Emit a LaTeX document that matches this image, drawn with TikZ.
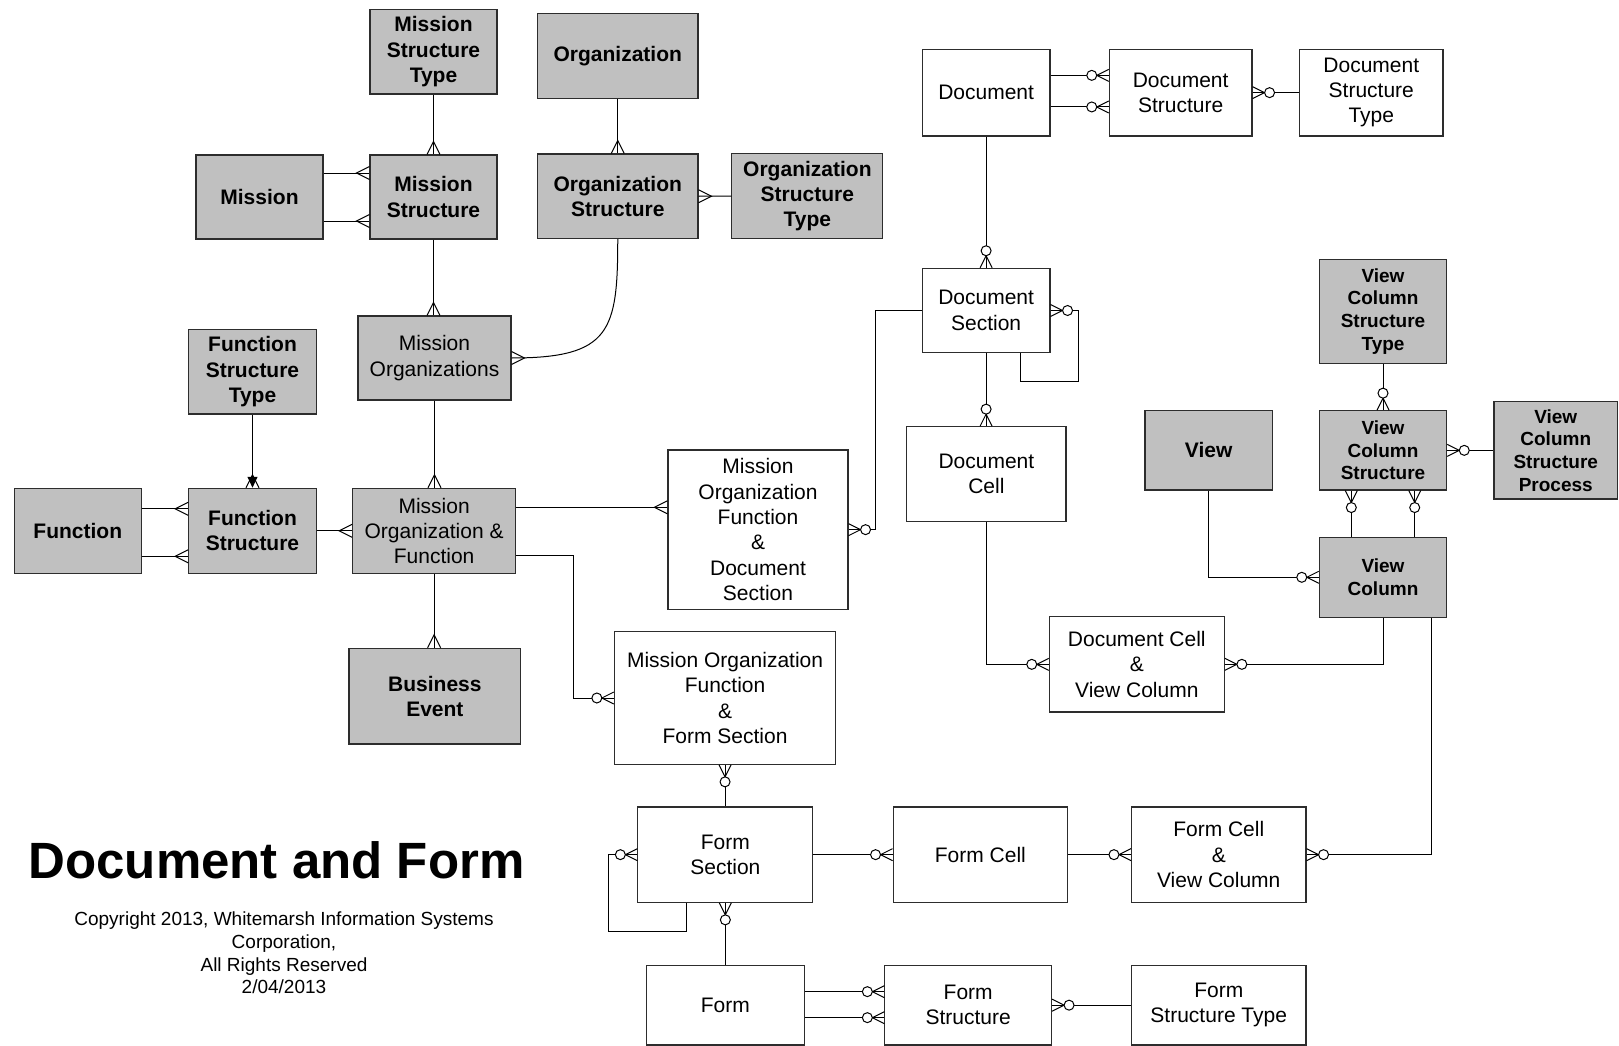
\documentclass[tikz,border=0pt]{standalone}
\usepackage{fontspec}
\setmainfont{Liberation Sans}
\usetikzlibrary{calc,arrows.meta}
\definecolor{entgray}{RGB}{192,192,192}
\definecolor{edgegray}{RGB}{45,45,45}

\begin{document}
\begin{tikzpicture}[x=1pt,y=-1pt,
  ent/.style={draw=edgegray, line width=1.1pt, inner sep=0pt, align=center,
              font=\fontsize{21}{25.3}\selectfont},
  wbox/.style={ent, fill=white},
  gbox/.style={ent, fill=entgray, font=\fontsize{21}{25.3}\selectfont\bfseries},
  gplain/.style={ent, fill=entgray},
  vbox/.style={ent, fill=entgray, font=\fontsize{19}{22.7}\selectfont\bfseries},
  sz/.style 2 args={minimum width=#1pt, minimum height=#2pt},
  rel/.style={draw=black, line width=1pt},
  crowfoot/.pic={\draw[rel] (0,6.5) -- (13,0) -- (0,-6.5);},
  zerocrow/.pic={\draw[rel] (0,6) -- (12,0) -- (0,-6);
                 \draw[rel, fill=white] (17,0) circle (5pt);},
]
\fill[white] (0,0) rectangle (1619,1046);
\useasboundingbox (0,0) rectangle (1619,1046);

% ---- mission / organization / function entities
\node[gbox, sz={127}{84.5}] (mst) at (433.5,51.75) {Mission\\Structure\\Type};
\node[gbox, sz={160.5}{85}] (org) at (617.75,56) {Organization};
\node[gbox, sz={127}{84}] (mission) at (259.5,197) {Mission};
\node[gbox, sz={127}{84}] (ms) at (433.5,197) {Mission\\Structure};
\node[gbox, sz={160.5}{84.5}] (orgs) at (617.75,196.25) {Organization\\Structure};
\node[gbox, sz={151}{84.7}] (ost) at (807.4,196.2) {Organization\\Structure\\Type};
\node[gplain, sz={153}{84}] (mo) at (434.5,358) {Mission\\Organizations};
\node[gbox, sz={127.6}{84.7}] (fst) at (252.5,371.65) {Function\\Structure\\Type};
\node[gbox, sz={127.2}{85}] (func) at (77.8,530.8) {Function};
\node[gbox, sz={127.6}{85}] (fs) at (252.5,530.8) {Function\\Structure};
\node[gplain, sz={163}{85}] (mof) at (434.1,530.8) {Mission\\Organization \&\\Function};
\node[gbox, sz={171.7}{95.7}] (be) at (434.85,696.15) {Business\\Event};

% ---- document / form entities
\node[wbox, sz={180}{159.3}] (mofds) at (758,529.65) {Mission\\Organization\\Function\\\&\\Document\\Section};
\node[wbox, sz={221.3}{132.6}] (moffs) at (725.05,698) {Mission Organization\\Function\\\&\\Form Section};
\node[wbox, sz={127.8}{86.7}] (doc) at (986.1,92.65) {Document};
\node[wbox, sz={142.7}{86.7}] (dstr) at (1180.65,92.65) {Document\\Structure};
\node[wbox, sz={143.5}{86.7}] (dst) at (1371.25,92.65) {Document\\Structure\\Type};
\node[wbox, sz={127.8}{84.4}] (dsec) at (986.1,310.5) {Document\\Section};
\node[wbox, sz={159.3}{95}] (dcell) at (986.35,474.2) {Document\\Cell};
\node[wbox, sz={175}{95.3}] (dcvc) at (1136.8,664.35) {Document Cell\\\&\\View Column};
\node[wbox, sz={174.9}{95.3}] (fsec) at (725.35,854.65) {Form\\Section};
\node[wbox, sz={174.5}{95.3}] (fcell) at (980.35,854.65) {Form Cell};
\node[wbox, sz={174.5}{95.3}] (fcvc) at (1218.75,854.65) {Form Cell\\\&\\View Column};
\node[wbox, sz={158.4}{79.7}] (form) at (725.3,1005.15) {Form};
\node[wbox, sz={166.6}{79.7}] (fstr) at (968.2,1005.15) {Form\\Structure};
\node[wbox, sz={174.5}{79.7}] (fstt) at (1218.75,1005.15) {Form\\Structure Type};

% ---- view entities
\node[vbox, sz={127.4}{104}] (vcst) at (1383,311.3) {View\\Column\\Structure\\Type};
\node[gbox, sz={127.3}{79.3}] (view) at (1208.65,450.35) {View};
\node[vbox, sz={127.4}{79.3}] (vcs) at (1383,450.35) {View\\Column\\Structure};
\node[vbox, sz={123.5}{97.3}] (vcsp) at (1555.75,450.35) {View\\Column\\Structure\\Process};
\node[vbox, sz={127.4}{80}] (vc) at (1383,577.3) {View\\Column};

% ---- titles
\node[font=\fontsize{51}{55}\selectfont\bfseries] (title) at (276.5,860.5) {Document and Form};
\node[align=center, font=\fontsize{19}{22.7}\selectfont] (copy) at (284,953)
  {Copyright 2013, Whitemarsh Information Systems\\Corporation,\\All Rights Reserved\\2/04/2013};

% ---- relationships: mission side
\draw[rel] (mst.south) -- (ms.north);
\pic[rotate=90] at (ms.north) {crowfoot};

\coordinate (m1) at ($(mission.east)+(0,-24)$);
\coordinate (m2) at ($(mission.east)+(0,24)$);
\draw[rel] (m1) -- (m1 -| ms.west);
\draw[rel] (m2) -- (m2 -| ms.west);
\pic[rotate=180] at (m1 -| ms.west) {crowfoot};
\pic[rotate=180] at (m2 -| ms.west) {crowfoot};

\draw[rel] (org.south) -- (orgs.north);
\pic[rotate=90] at (orgs.north) {crowfoot};

\draw[rel] (orgs.east) -- (ost.west);
\pic at (orgs.east) {crowfoot};

\draw[rel] (ms.south) -- (ms.south |- mo.north);
\pic[rotate=90] at (ms.south |- mo.north) {crowfoot};

\draw[rel] (orgs.south) .. controls ($(orgs.south)+(0,92)$) and ($(mo.east)+(99,0)$) .. (mo.east);
\pic at (mo.east) {crowfoot};

\draw[rel] (mo.south) -- (mo.south |- mof.north);
\pic[rotate=90] at (mo.south |- mof.north) {crowfoot};

\draw[rel, -{Triangle[length=11pt,width=10pt]}] (fst.south) -- (fs.north);
\pic[rotate=90] at (fs.north) {crowfoot};

\coordinate (f1) at ($(func.east)+(0,-22)$);
\coordinate (f2) at ($(func.east)+(0,25.5)$);
\draw[rel] (f1) -- (f1 -| fs.west);
\draw[rel] (f2) -- (f2 -| fs.west);
\pic[rotate=180] at (f1 -| fs.west) {crowfoot};
\pic[rotate=180] at (f2 -| fs.west) {crowfoot};

\draw[rel] (fs.east) -- (mof.west);
\pic[rotate=180] at (mof.west) {crowfoot};

\draw[rel] (mof.south) -- (mof.south |- be.north);
\pic[rotate=90] at (mof.south |- be.north) {crowfoot};

\coordinate (d1) at ($(mof.east)+(0,-23.5)$);
\draw[rel] (d1) -- (d1 -| mofds.west);
\pic[rotate=180] at (d1 -| mofds.west) {crowfoot};

\coordinate (d2) at ($(mof.east)+(0,24.2)$);
\draw[rel] (d2) -- ++(56.9,0) |- (moffs.west);
\pic[rotate=180] at (moffs.west) {zerocrow};

% ---- relationships: document side
\coordinate (e1) at ($(doc.east)+(0,-17.3)$);
\coordinate (e2) at ($(doc.east)+(0,14.3)$);
\draw[rel] (e1) -- (e1 -| dstr.west);
\draw[rel] (e2) -- (e2 -| dstr.west);
\pic[rotate=180] at (e1 -| dstr.west) {zerocrow};
\pic[rotate=180] at (e2 -| dstr.west) {zerocrow};

\draw[rel] (dstr.east) -- (dst.west);
\pic at (dstr.east) {zerocrow};

\draw[rel] (doc.south) -- (dsec.north);
\pic[rotate=90] at (dsec.north) {zerocrow};

\draw[rel] (dsec.east) -- ++(28.4,0) |- ($(dsec.south)+(34.6,28.3)$) -- ($(dsec.south)+(34.6,0)$);
\pic at (dsec.east) {zerocrow};

\draw[rel] (dsec.west) -- ++(-45.7,0) |- (mofds.east);
\pic at (mofds.east) {zerocrow};

\draw[rel] (dsec.south) -- (dsec.south |- dcell.north);
\pic[rotate=90] at (dsec.south |- dcell.north) {zerocrow};

\draw[rel] (dcell.south) |- (dcvc.west);
\pic[rotate=180] at (dcvc.west) {zerocrow};

\draw[rel] (vc.south) |- (dcvc.east);
\pic at (dcvc.east) {zerocrow};

% ---- relationships: view side
\draw[rel] (vcst.south) -- (vcs.north);
\pic[rotate=90] at (vcs.north) {zerocrow};

\draw[rel] (vcs.east) -- (vcs.east -| vcsp.west);
\pic at (vcs.east) {zerocrow};

\coordinate (v1) at ($(vcs.south)+(-31.7,0)$);
\coordinate (v2) at ($(vcs.south)+(31.7,0)$);
\draw[rel] (v1) -- (v1 |- vc.north);
\draw[rel] (v2) -- (v2 |- vc.north);
\pic[rotate=-90] at (v1) {zerocrow};
\pic[rotate=-90] at (v2) {zerocrow};

\draw[rel] (view.south) |- (vc.west);
\pic[rotate=180] at (vc.west) {zerocrow};

\coordinate (v3) at ($(vc.south)+(48,0)$);
\draw[rel] (v3) |- (fcvc.east);
\pic at (fcvc.east) {zerocrow};

% ---- relationships: form side
\draw[rel] (moffs.south) -- (moffs.south |- fsec.north);
\pic[rotate=-90] at (moffs.south) {zerocrow};

\draw[rel] (fsec.west) -- ++(-29,0) |- ($(fsec.south)+(-39.35,28.4)$) -- ($(fsec.south)+(-39.35,0)$);
\pic[rotate=180] at (fsec.west) {zerocrow};

\draw[rel] (fsec.east) -- (fcell.west);
\pic[rotate=180] at (fcell.west) {zerocrow};

\draw[rel] (fcell.east) -- (fcvc.west);
\pic[rotate=180] at (fcvc.west) {zerocrow};

\draw[rel] (fsec.south) -- (fsec.south |- form.north);
\pic[rotate=-90] at (fsec.south) {zerocrow};

\coordinate (g1) at ($(form.east)+(0,-13.5)$);
\coordinate (g2) at ($(form.east)+(0,12.5)$);
\draw[rel] (g1) -- (g1 -| fstr.west);
\draw[rel] (g2) -- (g2 -| fstr.west);
\pic[rotate=180] at (g1 -| fstr.west) {zerocrow};
\pic[rotate=180] at (g2 -| fstr.west) {zerocrow};

\draw[rel] (fstr.east) -- (fstt.west);
\pic at (fstr.east) {zerocrow};
\end{tikzpicture}
\end{document}
